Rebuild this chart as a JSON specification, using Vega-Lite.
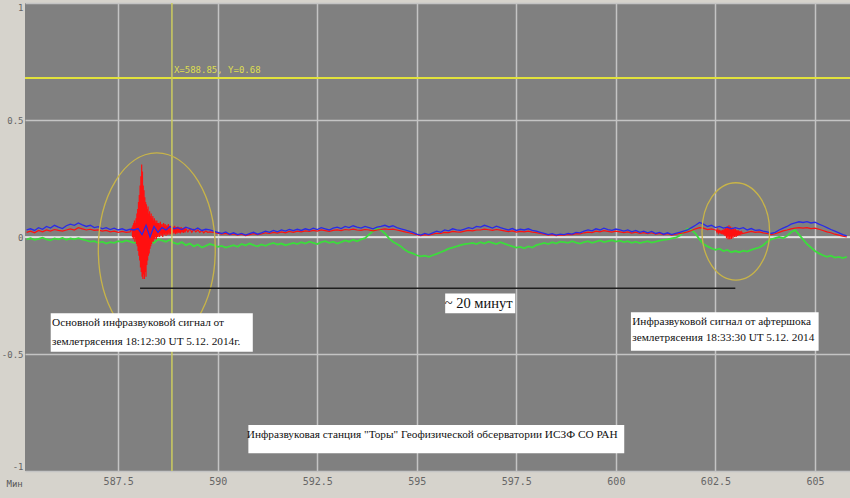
{
"$schema":"https://vega.github.io/schema/vega-lite/v6.json",
"width":825,"height":468,
"autosize":{"type":"none"},
"padding":{"left":25,"top":3,"right":0,"bottom":27},
"background":"#d6d3cc",
"config":{"view":{"fill":"#808080","stroke":null}},
"datasets":{
"bg":[
{"t":585.2,"b":0.03,"g":-0.01},{"t":585.3,"b":0.035,"g":-0.005},{"t":585.4,"b":0.028,"g":-0.012},{"t":585.5,"b":0.04,"g":-0.008},{"t":585.6,"b":0.033,"g":-0.003},{"t":585.7,"b":0.045,"g":-0.01},{"t":585.8,"b":0.038,"g":-0.014},{"t":585.9,"b":0.05,"g":-0.006},{"t":586.0,"b":0.042,"g":-0.01},{"t":586.1,"b":0.036,"g":-0.004},{"t":586.2,"b":0.048,"g":-0.012},{"t":586.3,"b":0.055,"g":-0.006},{"t":586.4,"b":0.05,"g":-0.01},{"t":586.5,"b":0.06,"g":-0.005},
{"t":586.6,"b":0.052,"g":-0.01},{"t":586.7,"b":0.045,"g":-0.015},{"t":586.8,"b":0.05,"g":-0.02},{"t":586.9,"b":0.04,"g":-0.018},{"t":587.0,"b":0.044,"g":-0.025},{"t":587.1,"b":0.035,"g":-0.02},{"t":587.2,"b":0.04,"g":-0.028},{"t":587.3,"b":0.032,"g":-0.022},{"t":587.4,"b":0.038,"g":-0.025},{"t":587.5,"b":0.03,"g":-0.018},{"t":587.6,"b":0.035,"g":-0.022},{"t":587.7,"b":0.028,"g":-0.015},{"t":587.8,"b":0.033,"g":-0.02},{"t":587.9,"b":0.03,"g":-0.025},{"t":588.0,"b":0.036,"g":-0.02},
{"t":588.1,"b":0.01,"g":-0.01},{"t":588.2,"b":0.05,"g":-0.03},{"t":588.3,"b":0.0,"g":-0.015},{"t":588.4,"b":0.045,"g":-0.025},{"t":588.5,"b":0.02,"g":-0.01},
{"t":588.6,"b":0.04,"g":-0.015},{"t":588.7,"b":0.03,"g":-0.02},{"t":588.8,"b":0.045,"g":-0.012},{"t":588.9,"b":0.035,"g":-0.025},{"t":589.0,"b":0.04,"g":-0.03},{"t":589.1,"b":0.032,"g":-0.022},{"t":589.2,"b":0.042,"g":-0.035},{"t":589.3,"b":0.036,"g":-0.028},{"t":589.4,"b":0.03,"g":-0.04},{"t":589.5,"b":0.038,"g":-0.032},{"t":589.6,"b":0.028,"g":-0.045},{"t":589.7,"b":0.033,"g":-0.038},{"t":589.8,"b":0.03,"g":-0.03},
{"t":589.9,"b":0.025,"g":-0.035},{"t":590.0,"b":0.02,"g":-0.042},{"t":590.1,"b":0.015,"g":-0.038},{"t":590.2,"b":0.022,"g":-0.045},{"t":590.3,"b":0.012,"g":-0.04},{"t":590.4,"b":0.018,"g":-0.035},{"t":590.5,"b":0.01,"g":-0.042},{"t":590.6,"b":0.015,"g":-0.03},{"t":590.7,"b":0.008,"g":-0.036},{"t":590.8,"b":0.014,"g":-0.028},{"t":590.9,"b":0.02,"g":-0.035},{"t":591.0,"b":0.012,"g":-0.04},{"t":591.1,"b":0.018,"g":-0.032},{"t":591.2,"b":0.025,"g":-0.038},{"t":591.3,"b":0.02,"g":-0.03},{"t":591.4,"b":0.028,"g":-0.025},{"t":591.5,"b":0.022,"g":-0.032},{"t":591.6,"b":0.03,"g":-0.028},{"t":591.7,"b":0.025,"g":-0.035},{"t":591.8,"b":0.032,"g":-0.03},{"t":591.9,"b":0.027,"g":-0.025},{"t":592.0,"b":0.033,"g":-0.03},
{"t":592.1,"b":0.028,"g":-0.022},{"t":592.2,"b":0.035,"g":-0.028},{"t":592.3,"b":0.03,"g":-0.02},{"t":592.4,"b":0.038,"g":-0.025},{"t":592.5,"b":0.032,"g":-0.03},{"t":592.6,"b":0.04,"g":-0.022},{"t":592.7,"b":0.035,"g":-0.018},{"t":592.8,"b":0.03,"g":-0.025},{"t":592.9,"b":0.038,"g":-0.02},{"t":593.0,"b":0.042,"g":-0.028},{"t":593.1,"b":0.036,"g":-0.022},{"t":593.2,"b":0.045,"g":-0.015},{"t":593.3,"b":0.04,"g":-0.02},{"t":593.4,"b":0.048,"g":-0.012},{"t":593.5,"b":0.042,"g":-0.018},{"t":593.6,"b":0.038,"g":-0.01},{"t":593.7,"b":0.045,"g":-0.005},{"t":593.8,"b":0.04,"g":0.01},{"t":593.9,"b":0.035,"g":0.025},{"t":594.0,"b":0.042,"g":0.035},
{"t":594.1,"b":0.045,"g":0.03},{"t":594.2,"b":0.05,"g":0.015},{"t":594.3,"b":0.043,"g":-0.005},{"t":594.4,"b":0.048,"g":-0.02},{"t":594.5,"b":0.04,"g":-0.03},{"t":594.6,"b":0.035,"g":-0.04},{"t":594.7,"b":0.03,"g":-0.055},{"t":594.8,"b":0.025,"g":-0.065},{"t":594.9,"b":0.02,"g":-0.07},{"t":595.0,"b":0.012,"g":-0.078},{"t":595.1,"b":0.008,"g":-0.083},{"t":595.2,"b":0.015,"g":-0.08},{"t":595.3,"b":0.01,"g":-0.085},
{"t":595.4,"b":0.018,"g":-0.078},{"t":595.5,"b":0.025,"g":-0.072},{"t":595.6,"b":0.02,"g":-0.065},{"t":595.7,"b":0.03,"g":-0.058},{"t":595.8,"b":0.026,"g":-0.05},{"t":595.9,"b":0.035,"g":-0.045},{"t":596.0,"b":0.03,"g":-0.04},{"t":596.1,"b":0.028,"g":-0.035},{"t":596.2,"b":0.034,"g":-0.03},{"t":596.3,"b":0.04,"g":-0.028},{"t":596.4,"b":0.036,"g":-0.025},{"t":596.5,"b":0.045,"g":-0.03},{"t":596.6,"b":0.042,"g":-0.022},{"t":596.7,"b":0.05,"g":-0.028},{"t":596.8,"b":0.044,"g":-0.02},{"t":596.9,"b":0.038,"g":-0.025},{"t":597.0,"b":0.046,"g":-0.03},{"t":597.1,"b":0.04,"g":-0.022},
{"t":597.2,"b":0.035,"g":-0.028},{"t":597.3,"b":0.03,"g":-0.035},{"t":597.4,"b":0.036,"g":-0.04},{"t":597.5,"b":0.028,"g":-0.045},{"t":597.6,"b":0.033,"g":-0.042},{"t":597.7,"b":0.03,"g":-0.048},{"t":597.8,"b":0.035,"g":-0.04},{"t":597.9,"b":0.028,"g":-0.045},{"t":598.0,"b":0.025,"g":-0.035},{"t":598.1,"b":0.02,"g":-0.03},{"t":598.2,"b":0.015,"g":-0.025},{"t":598.3,"b":0.01,"g":-0.03},{"t":598.4,"b":0.014,"g":-0.022},{"t":598.5,"b":0.008,"g":-0.028},{"t":598.6,"b":0.012,"g":-0.02},
{"t":598.7,"b":0.01,"g":-0.022},{"t":598.8,"b":0.015,"g":-0.025},{"t":598.9,"b":0.012,"g":-0.018},{"t":599.0,"b":0.02,"g":-0.024},{"t":599.1,"b":0.018,"g":-0.028},{"t":599.2,"b":0.025,"g":-0.022},{"t":599.3,"b":0.03,"g":-0.018},{"t":599.4,"b":0.026,"g":-0.025},{"t":599.5,"b":0.035,"g":-0.02},{"t":599.6,"b":0.03,"g":-0.015},{"t":599.7,"b":0.038,"g":-0.022},{"t":599.8,"b":0.032,"g":-0.018},{"t":599.9,"b":0.028,"g":-0.014},{"t":600.0,"b":0.034,"g":-0.02},{"t":600.1,"b":0.03,"g":-0.016},
{"t":600.2,"b":0.025,"g":-0.022},{"t":600.3,"b":0.03,"g":-0.018},{"t":600.4,"b":0.022,"g":-0.025},{"t":600.5,"b":0.028,"g":-0.02},{"t":600.6,"b":0.02,"g":-0.026},{"t":600.7,"b":0.025,"g":-0.022},{"t":600.8,"b":0.018,"g":-0.018},{"t":600.9,"b":0.024,"g":-0.024},{"t":601.0,"b":0.015,"g":-0.02},{"t":601.1,"b":0.02,"g":-0.016},{"t":601.2,"b":0.012,"g":-0.012},{"t":601.3,"b":0.018,"g":-0.01},{"t":601.4,"b":0.01,"g":-0.006},{"t":601.5,"b":0.015,"g":-0.003},{"t":601.6,"b":0.02,"g":0.005},
{"t":601.7,"b":0.025,"g":0.02},{"t":601.8,"b":0.03,"g":0.035},{"t":601.9,"b":0.04,"g":0.03},{"t":602.0,"b":0.05,"g":0.015},{"t":602.1,"b":0.062,"g":-0.01},{"t":602.2,"b":0.055,"g":-0.03},{"t":602.3,"b":0.045,"g":-0.04},{"t":602.4,"b":0.05,"g":-0.048},{"t":602.5,"b":0.04,"g":-0.055},{"t":602.6,"b":0.045,"g":-0.05},{"t":602.7,"b":0.038,"g":-0.06},{"t":602.8,"b":0.042,"g":-0.055},{"t":602.9,"b":0.035,"g":-0.065},{"t":603.0,"b":0.04,"g":-0.06},
{"t":603.1,"b":0.035,"g":-0.065},{"t":603.2,"b":0.04,"g":-0.058},{"t":603.3,"b":0.03,"g":-0.062},{"t":603.4,"b":0.036,"g":-0.055},{"t":603.5,"b":0.028,"g":-0.05},{"t":603.6,"b":0.03,"g":-0.045},{"t":603.7,"b":0.025,"g":-0.035},{"t":603.8,"b":0.022,"g":-0.02},{"t":603.9,"b":0.015,"g":-0.01},{"t":604.0,"b":0.02,"g":-0.005},{"t":604.1,"b":0.03,"g":0.0},{"t":604.2,"b":0.038,"g":-0.005},{"t":604.3,"b":0.045,"g":0.005},{"t":604.4,"b":0.055,"g":0.02},{"t":604.5,"b":0.06,"g":0.03},{"t":604.6,"b":0.065,"g":0.01},
{"t":604.7,"b":0.062,"g":-0.01},{"t":604.8,"b":0.066,"g":-0.03},{"t":604.9,"b":0.06,"g":-0.045},{"t":605.0,"b":0.063,"g":-0.06},{"t":605.1,"b":0.055,"g":-0.07},{"t":605.2,"b":0.048,"g":-0.078},{"t":605.3,"b":0.04,"g":-0.085},{"t":605.4,"b":0.032,"g":-0.08},{"t":605.5,"b":0.025,"g":-0.088},{"t":605.6,"b":0.018,"g":-0.085},{"t":605.7,"b":0.01,"g":-0.09},{"t":605.8,"b":0.005,"g":-0.085}
],
"red":[
{"t":585.2,"r":0.02},{"t":585.3,"r":0.025},{"t":585.4,"r":0.018},{"t":585.5,"r":0.028},{"t":585.6,"r":0.022},{"t":585.7,"r":0.03},{"t":585.8,"r":0.025},{"t":585.9,"r":0.032},{"t":586.0,"r":0.028},{"t":586.1,"r":0.025},{"t":586.2,"r":0.03},{"t":586.3,"r":0.035},{"t":586.4,"r":0.03},{"t":586.5,"r":0.04},{"t":586.6,"r":0.035},{"t":586.7,"r":0.03},{"t":586.8,"r":0.033},{"t":586.9,"r":0.028},{"t":587.0,"r":0.03},{"t":587.1,"r":0.025},{"t":587.2,"r":0.028},{"t":587.3,"r":0.022},{"t":587.4,"r":0.025},{"t":587.5,"r":0.02},{"t":587.6,"r":0.024},{"t":587.7,"r":0.02},{"t":587.8,"r":0.022},
{"t":587.85,"r":0.04},{"t":587.86,"r":0.0},{"t":587.87,"r":0.05},{"t":587.88,"r":-0.01},{"t":587.89,"r":0.06},{"t":587.90,"r":0.0},{"t":587.91,"r":0.07},{"t":587.92,"r":-0.02},{"t":587.93,"r":0.06},{"t":587.94,"r":-0.01},{"t":587.95,"r":0.08},{"t":587.96,"r":-0.03},{"t":587.97,"r":0.1},{"t":587.98,"r":-0.04},{"t":587.99,"r":0.12},{"t":588.00,"r":-0.06},{"t":588.01,"r":0.15},{"t":588.02,"r":-0.08},{"t":588.03,"r":0.18},{"t":588.04,"r":-0.1},{"t":588.05,"r":0.22},{"t":588.06,"r":-0.13},{"t":588.07,"r":0.26},{"t":588.08,"r":-0.15},{"t":588.09,"r":0.31},{"t":588.10,"r":-0.17},{"t":588.11,"r":0.28},{"t":588.12,"r":-0.18},{"t":588.13,"r":0.22},{"t":588.14,"r":-0.16},{"t":588.15,"r":0.2},{"t":588.16,"r":-0.18},{"t":588.17,"r":0.17},{"t":588.18,"r":-0.15},{"t":588.19,"r":0.15},{"t":588.20,"r":-0.17},{"t":588.21,"r":0.14},{"t":588.22,"r":-0.12},{"t":588.23,"r":0.12},{"t":588.24,"r":-0.1},{"t":588.25,"r":0.13},{"t":588.26,"r":-0.08},{"t":588.27,"r":0.1},{"t":588.28,"r":-0.07},{"t":588.29,"r":0.11},{"t":588.30,"r":-0.05},{"t":588.31,"r":0.09},{"t":588.32,"r":-0.04},{"t":588.33,"r":0.1},{"t":588.34,"r":-0.03},{"t":588.35,"r":0.08},{"t":588.36,"r":-0.02},{"t":588.37,"r":0.09},{"t":588.38,"r":-0.02},{"t":588.39,"r":0.07},{"t":588.40,"r":-0.01},{"t":588.41,"r":0.08},{"t":588.42,"r":-0.01},{"t":588.43,"r":0.07},{"t":588.44,"r":0.0},{"t":588.45,"r":0.06},{"t":588.46,"r":-0.01},{"t":588.47,"r":0.07},{"t":588.48,"r":0.0},{"t":588.49,"r":0.06},{"t":588.50,"r":0.0},
{"t":588.52,"r":0.06},{"t":588.54,"r":0.0},{"t":588.56,"r":0.065},{"t":588.58,"r":0.005},{"t":588.60,"r":0.055},{"t":588.62,"r":0.0},{"t":588.64,"r":0.06},{"t":588.66,"r":0.01},{"t":588.68,"r":0.055},{"t":588.70,"r":0.005},{"t":588.72,"r":0.05},{"t":588.74,"r":0.01},{"t":588.76,"r":0.055},{"t":588.78,"r":0.01},{"t":588.80,"r":0.048},{"t":588.82,"r":0.012},{"t":588.84,"r":0.05},{"t":588.86,"r":0.01},{"t":588.88,"r":0.045},{"t":588.90,"r":0.015},{"t":588.92,"r":0.048},{"t":588.94,"r":0.012},{"t":588.96,"r":0.042},{"t":588.98,"r":0.015},{"t":589.00,"r":0.045},{"t":589.02,"r":0.018},{"t":589.04,"r":0.04},{"t":589.06,"r":0.015},{"t":589.08,"r":0.042},{"t":589.10,"r":0.02},{"t":589.12,"r":0.038},{"t":589.14,"r":0.018},{"t":589.16,"r":0.04},{"t":589.18,"r":0.02},{"t":589.20,"r":0.036},
{"t":589.25,"r":0.022},{"t":589.30,"r":0.035},{"t":589.35,"r":0.02},{"t":589.40,"r":0.033},{"t":589.45,"r":0.022},{"t":589.50,"r":0.03},{"t":589.55,"r":0.02},{"t":589.60,"r":0.028},{"t":589.65,"r":0.018},{"t":589.70,"r":0.026},{"t":589.75,"r":0.02},
{"t":589.8,"r":0.022},{"t":589.9,"r":0.02},{"t":590.0,"r":0.016},{"t":590.1,"r":0.012},{"t":590.2,"r":0.015},{"t":590.3,"r":0.01},{"t":590.4,"r":0.013},{"t":590.5,"r":0.008},{"t":590.6,"r":0.012},{"t":590.7,"r":0.006},{"t":590.8,"r":0.01},{"t":590.9,"r":0.014},{"t":591.0,"r":0.01},{"t":591.1,"r":0.013},{"t":591.2,"r":0.018},{"t":591.3,"r":0.015},{"t":591.4,"r":0.02},{"t":591.5,"r":0.017},{"t":591.6,"r":0.022},{"t":591.7,"r":0.018},{"t":591.8,"r":0.024},{"t":591.9,"r":0.02},{"t":592.0,"r":0.025},
{"t":592.1,"r":0.022},{"t":592.2,"r":0.026},{"t":592.3,"r":0.024},{"t":592.4,"r":0.028},{"t":592.5,"r":0.025},{"t":592.6,"r":0.03},{"t":592.7,"r":0.027},{"t":592.8,"r":0.024},{"t":592.9,"r":0.028},{"t":593.0,"r":0.03},{"t":593.1,"r":0.027},{"t":593.2,"r":0.032},{"t":593.3,"r":0.03},{"t":593.4,"r":0.034},{"t":593.5,"r":0.03},{"t":593.6,"r":0.028},{"t":593.7,"r":0.032},{"t":593.8,"r":0.03},{"t":593.9,"r":0.026},{"t":594.0,"r":0.03},
{"t":594.1,"r":0.032},{"t":594.2,"r":0.035},{"t":594.3,"r":0.032},{"t":594.4,"r":0.034},{"t":594.5,"r":0.03},{"t":594.6,"r":0.026},{"t":594.7,"r":0.022},{"t":594.8,"r":0.018},{"t":594.9,"r":0.014},{"t":595.0,"r":0.01},{"t":595.1,"r":0.006},{"t":595.2,"r":0.01},{"t":595.3,"r":0.008},
{"t":595.4,"r":0.012},{"t":595.5,"r":0.016},{"t":595.6,"r":0.015},{"t":595.7,"r":0.02},{"t":595.8,"r":0.019},{"t":595.9,"r":0.024},{"t":596.0,"r":0.022},{"t":596.1,"r":0.021},{"t":596.2,"r":0.025},{"t":596.3,"r":0.028},{"t":596.4,"r":0.026},{"t":596.5,"r":0.03},{"t":596.6,"r":0.03},{"t":596.7,"r":0.034},{"t":596.8,"r":0.031},{"t":596.9,"r":0.028},{"t":597.0,"r":0.032},{"t":597.1,"r":0.029},
{"t":597.2,"r":0.026},{"t":597.3,"r":0.023},{"t":597.4,"r":0.026},{"t":597.5,"r":0.021},{"t":597.6,"r":0.024},{"t":597.7,"r":0.022},{"t":597.8,"r":0.025},{"t":597.9,"r":0.021},{"t":598.0,"r":0.019},{"t":598.1,"r":0.015},{"t":598.2,"r":0.012},{"t":598.3,"r":0.008},{"t":598.4,"r":0.01},{"t":598.5,"r":0.006},{"t":598.6,"r":0.009},
{"t":598.7,"r":0.008},{"t":598.8,"r":0.011},{"t":598.9,"r":0.01},{"t":599.0,"r":0.014},{"t":599.1,"r":0.013},{"t":599.2,"r":0.018},{"t":599.3,"r":0.021},{"t":599.4,"r":0.019},{"t":599.5,"r":0.025},{"t":599.6,"r":0.022},{"t":599.7,"r":0.027},{"t":599.8,"r":0.024},{"t":599.9,"r":0.021},{"t":600.0,"r":0.025},{"t":600.1,"r":0.022},
{"t":600.2,"r":0.019},{"t":600.3,"r":0.022},{"t":600.4,"r":0.017},{"t":600.5,"r":0.021},{"t":600.6,"r":0.015},{"t":600.7,"r":0.019},{"t":600.8,"r":0.014},{"t":600.9,"r":0.018},{"t":601.0,"r":0.012},{"t":601.1,"r":0.015},{"t":601.2,"r":0.01},{"t":601.3,"r":0.014},{"t":601.4,"r":0.008},{"t":601.5,"r":0.012},{"t":601.6,"r":0.015},
{"t":601.7,"r":0.018},{"t":601.8,"r":0.022},{"t":601.9,"r":0.028},{"t":602.0,"r":0.035},{"t":602.1,"r":0.04},{"t":602.2,"r":0.038},{"t":602.3,"r":0.032},{"t":602.4,"r":0.035},{"t":602.5,"r":0.03},
{"t":602.52,"r":0.03},{"t":602.54,"r":0.02},{"t":602.56,"r":0.032},{"t":602.58,"r":0.018},{"t":602.60,"r":0.03},{"t":602.62,"r":0.015},{"t":602.64,"r":0.028},{"t":602.66,"r":0.012},{"t":602.68,"r":0.03},{"t":602.70,"r":0.01},{"t":602.72,"r":0.035},{"t":602.74,"r":0.005},{"t":602.76,"r":0.04},{"t":602.78,"r":-0.005},{"t":602.80,"r":0.045},{"t":602.82,"r":-0.01},{"t":602.84,"r":0.05},{"t":602.86,"r":-0.01},{"t":602.88,"r":0.045},{"t":602.90,"r":-0.008},{"t":602.92,"r":0.04},{"t":602.94,"r":-0.005},{"t":602.96,"r":0.038},{"t":602.98,"r":0.0},{"t":603.00,"r":0.035},{"t":603.02,"r":0.0},{"t":603.04,"r":0.03},{"t":603.06,"r":0.005},{"t":603.08,"r":0.028},{"t":603.10,"r":0.008},{"t":603.12,"r":0.025},{"t":603.14,"r":0.012},{"t":603.16,"r":0.022},{"t":603.18,"r":0.015},
{"t":603.3,"r":0.02},{"t":603.4,"r":0.024},{"t":603.5,"r":0.02},{"t":603.6,"r":0.022},{"t":603.7,"r":0.018},{"t":603.8,"r":0.015},{"t":603.9,"r":0.01},{"t":604.0,"r":0.014},{"t":604.1,"r":0.02},{"t":604.2,"r":0.026},{"t":604.3,"r":0.03},{"t":604.4,"r":0.035},{"t":604.5,"r":0.038},{"t":604.6,"r":0.04},{"t":604.7,"r":0.038},{"t":604.8,"r":0.04},{"t":604.9,"r":0.036},{"t":605.0,"r":0.038},{"t":605.1,"r":0.033},{"t":605.2,"r":0.028},{"t":605.3,"r":0.022},{"t":605.4,"r":0.018},{"t":605.5,"r":0.012},{"t":605.6,"r":0.008},{"t":605.7,"r":0.004},{"t":605.8,"r":0.0}
],
"boxes":[
{"x1":585.806,"x2":590.881,"y1":-0.326,"y2":-0.49},
{"x1":600.378,"x2":605.092,"y1":-0.322,"y2":-0.486},
{"x1":595.713,"x2":597.472,"y1":-0.241,"y2":-0.326},
{"x1":590.77,"x2":600.21,"y1":-0.803,"y2":-0.924}
],
"leftText":[
{"x":585.84,"y":-0.366,"label":"Основной инфразвуковой сигнал от"},
{"x":585.84,"y":-0.447,"label":"землетрясения  18:12:30 UT 5.12. 2014г."},
{"x":600.41,"y":-0.362,"label":"Инфразвуковой сигнал от афтершока"},
{"x":600.41,"y":-0.433,"label":"землетрясения 18:33:30 UT 5.12. 2014"}
]
},
"layer":[
{"data":{"values":[{"v":0}]},
 "mark":{"type":"rule","color":"#ececec","strokeWidth":1.5},
 "encoding":{"y":{"field":"v","type":"quantitative","scale":{"domain":[-1,1],"nice":false,"zero":false}}}},
{"data":{"name":"bg"},
 "mark":{"type":"line","color":"#3cdc3c","strokeWidth":1.8},
 "encoding":{
  "x":{"field":"t","type":"quantitative","scale":{"domain":[585.16,605.88],"nice":false,"zero":false},
   "axis":{"values":[587.5,590,592.5,595,597.5,600,602.5,605],"labelExpr":"''+datum.value","grid":true,"gridColor":"#c4c4c4","gridWidth":1.5,"ticks":false,"domain":false,"labelFont":"DejaVu Sans Mono","labelFontSize":10,"labelColor":"#666666","labelPadding":5,"title":"Мин","titleFont":"DejaVu Sans Mono","titleFontSize":9,"titleFontWeight":"normal","titleColor":"#555555","titleX":-19,"titleY":12,"titleAlign":"left","titleBaseline":"middle"}},
  "y":{"field":"g","type":"quantitative","scale":{"domain":[-1,1],"nice":false,"zero":false},
   "axis":{"values":[-1,-0.5,0,0.5,1],"labelExpr":"''+datum.value","grid":true,"gridColor":"#c4c4c4","gridWidth":1.5,"ticks":false,"domain":false,"labelFont":"DejaVu Sans Mono","labelFontSize":9,"labelColor":"#666666","labelPadding":2,"labelFlush":true,"title":null}}}},
{"data":{"name":"red"},
 "mark":{"type":"line","color":"#ff1010","strokeWidth":1.2},
 "encoding":{"x":{"field":"t","type":"quantitative","scale":{"domain":[585.16,605.88],"nice":false,"zero":false}},
  "y":{"field":"r","type":"quantitative","scale":{"domain":[-1,1],"nice":false,"zero":false}}}},
{"data":{"name":"bg"},
 "mark":{"type":"line","color":"#2a2ae8","strokeWidth":1.3},
 "encoding":{"x":{"field":"t","type":"quantitative","scale":{"domain":[585.16,605.88],"nice":false,"zero":false}},
  "y":{"field":"b","type":"quantitative","scale":{"domain":[-1,1],"nice":false,"zero":false}}}},
{"data":{"values":[{"v":0.68}]},
 "mark":{"type":"rule","color":"#e2e23c","strokeWidth":2},
 "encoding":{"y":{"field":"v","type":"quantitative","scale":{"domain":[-1,1],"nice":false,"zero":false}}}},
{"data":{"values":[{"v":588.85}]},
 "mark":{"type":"rule","color":"#cccc60","strokeWidth":1.5},
 "encoding":{"x":{"field":"v","type":"quantitative","scale":{"domain":[585.16,605.88],"nice":false,"zero":false}}}},
{"data":{"values":[{"x":588.85,"y":0.68,"label":"X=588.85, Y=0.68"}]},
 "mark":{"type":"text","color":"#dede50","font":"DejaVu Sans Mono","fontSize":9,"align":"left","baseline":"bottom","dx":2,"dy":-3},
 "encoding":{"x":{"field":"x","type":"quantitative","scale":{"domain":[585.16,605.88],"nice":false,"zero":false}},
  "y":{"field":"y","type":"quantitative","scale":{"domain":[-1,1],"nice":false,"zero":false}},
  "text":{"field":"label"}}},
{"data":{"values":[{"x":588.47,"y":-0.053}]},
 "mark":{"type":"point","shape":"M -0.606 0 A 0.606 1 0 1 0 0.606 0 A 0.606 1 0 1 0 -0.606 0 Z","size":37249,"filled":false,"stroke":"#c8b448","strokeWidth":1.3,"opacity":1},
 "encoding":{"x":{"field":"x","type":"quantitative","scale":{"domain":[585.16,605.88],"nice":false,"zero":false}},
  "y":{"field":"y","type":"quantitative","scale":{"domain":[-1,1],"nice":false,"zero":false}}}},
{"data":{"values":[{"x":603.012,"y":0.024}]},
 "mark":{"type":"point","shape":"M -0.695 0 A 0.695 1 0 1 0 0.695 0 A 0.695 1 0 1 0 -0.695 0 Z","size":9467,"filled":false,"stroke":"#c8b448","strokeWidth":1.3,"opacity":1},
 "encoding":{"x":{"field":"x","type":"quantitative","scale":{"domain":[585.16,605.88],"nice":false,"zero":false}},
  "y":{"field":"y","type":"quantitative","scale":{"domain":[-1,1],"nice":false,"zero":false}}}},
{"data":{"values":[{"x1":588.05,"x2":603.0,"y":-0.219}]},
 "mark":{"type":"rule","color":"#1e1e1e","strokeWidth":1.5},
 "encoding":{"x":{"field":"x1","type":"quantitative","scale":{"domain":[585.16,605.88],"nice":false,"zero":false}},
  "x2":{"field":"x2"},
  "y":{"field":"y","type":"quantitative","scale":{"domain":[-1,1],"nice":false,"zero":false}}}},
{"data":{"name":"boxes"},
 "mark":{"type":"rect","fill":"#ffffff"},
 "encoding":{"x":{"field":"x1","type":"quantitative","scale":{"domain":[585.16,605.88],"nice":false,"zero":false}},
  "x2":{"field":"x2"},
  "y":{"field":"y1","type":"quantitative","scale":{"domain":[-1,1],"nice":false,"zero":false}},
  "y2":{"field":"y2"}}},
{"data":{"name":"leftText"},
 "mark":{"type":"text","color":"#111111","font":"Liberation Serif","fontSize":11.3,"align":"left","baseline":"middle"},
 "encoding":{"x":{"field":"x","type":"quantitative","scale":{"domain":[585.16,605.88],"nice":false,"zero":false}},
  "y":{"field":"y","type":"quantitative","scale":{"domain":[-1,1],"nice":false,"zero":false}},
  "text":{"field":"label"}}},
{"data":{"values":[{"x":596.554,"y":-0.286,"label":"~ 20 минут"}]},
 "mark":{"type":"text","color":"#111111","font":"Liberation Serif","fontSize":14.5,"align":"center","baseline":"middle"},
 "encoding":{"x":{"field":"x","type":"quantitative","scale":{"domain":[585.16,605.88],"nice":false,"zero":false}},
  "y":{"field":"y","type":"quantitative","scale":{"domain":[-1,1],"nice":false,"zero":false}},
  "text":{"field":"label"}}},
{"data":{"values":[{"x":595.386,"y":-0.846,"label":"Инфразвуковая станция \"Торы\" Геофизической обсерватории ИСЗФ СО РАН"}]},
 "mark":{"type":"text","color":"#111111","font":"Liberation Serif","fontSize":11.3,"align":"center","baseline":"middle"},
 "encoding":{"x":{"field":"x","type":"quantitative","scale":{"domain":[585.16,605.88],"nice":false,"zero":false}},
  "y":{"field":"y","type":"quantitative","scale":{"domain":[-1,1],"nice":false,"zero":false}},
  "text":{"field":"label"}}}
]
}
